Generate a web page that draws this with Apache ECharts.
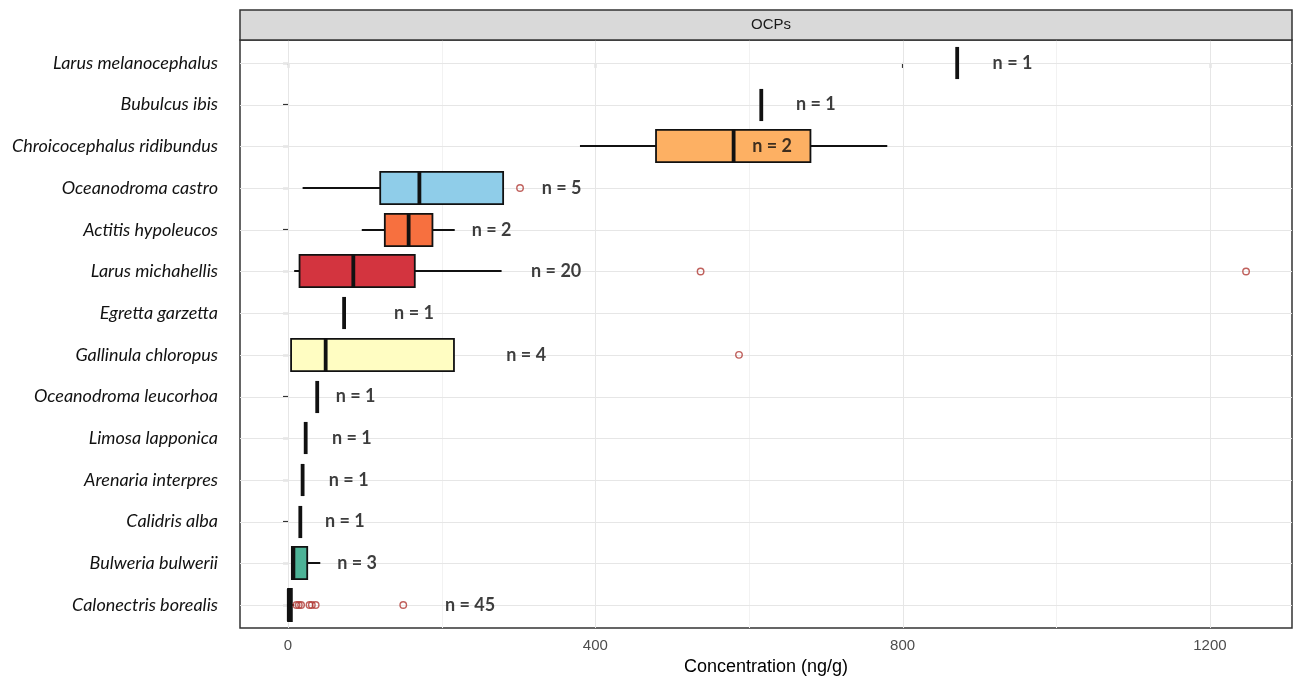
<!DOCTYPE html>
<html>
<head>
<meta charset="utf-8">
<title>OCPs concentration by species</title>
<script src="https://cdn.jsdelivr.net/npm/echarts@6/dist/echarts.min.js"></script>
<style>
  html, body { margin: 0; padding: 0; background: #ffffff; }
  #chart { width: 1294px; height: 677px; }
</style>
</head>
<body>
<div id="chart"></div>
<script>
// Species, listed from the top row to the bottom row
const species = [
  'Larus melanocephalus',
  'Bubulcus ibis',
  'Chroicocephalus ridibundus',
  'Oceanodroma castro',
  'Actitis hypoleucos',
  'Larus michahellis',
  'Egretta garzetta',
  'Gallinula chloropus',
  'Oceanodroma leucorhoa',
  'Limosa lapponica',
  'Arenaria interpres',
  'Calidris alba',
  'Bulweria bulwerii',
  'Calonectris borealis'
];

// Box statistics (ng/g)
const whiskerLow  = [871, 616, 380,  19,  96,   8, 73,   4, 38, 23, 19, 16,  5, 0];
const quartile1   = [871, 616, 479, 120, 126,  15, 73,   4, 38, 23, 19, 16,  5, 0];
const medianValue = [871, 616, 580, 171, 157,  85, 73,  49, 38, 23, 19, 16,  7, 1];
const quartile3   = [871, 616, 680, 280, 188, 165, 73, 216, 38, 23, 19, 16, 25, 5];
const whiskerHigh = [871, 616, 780, 280, 217, 278, 73, 216, 38, 23, 19, 16, 42, 8];

// Sample sizes and where their "n = " labels sit on the concentration scale
const sampleSize = [1, 1, 2, 5, 2, 20, 1, 4, 1, 1, 1, 1, 3, 45];
const labelAt    = [943, 687, 630, 356, 265, 349, 164, 310, 88, 83, 79, 74, 90, 237];

// Outlying observations
const outlierSpecies = [
  'Oceanodroma castro',
  'Larus michahellis', 'Larus michahellis',
  'Gallinula chloropus',
  'Calonectris borealis', 'Calonectris borealis', 'Calonectris borealis',
  'Calonectris borealis', 'Calonectris borealis', 'Calonectris borealis',
  'Calonectris borealis'
];
const outlierValue = [302, 537, 1247, 587, 11, 14, 17, 28, 31, 36, 150];

// Concentration ticks
const majorX = [0, 400, 800, 1200];
const minorX = [200, 600, 1000];

// Fill colour of each box
const boxFill = [
  '#111111', '#111111', '#FDB063', '#8FCDE9', '#F7703F', '#D3343F', '#111111',
  '#FFFDC2', '#111111', '#111111', '#111111', '#111111', '#4DB397', '#111111'
];

const rows = species.map((_, i) => i);
const boxData = species.map((_, i) => [i, whiskerLow[i], quartile1[i], medianValue[i], quartile3[i], whiskerHigh[i]]);
const labelData = species.map((_, i) => [labelAt[i], i, sampleSize[i]]);
const outlierData = outlierValue.map((v, k) => [v, species.indexOf(outlierSpecies[k])]);

const INK = '#111111';
const PANEL = { left: 240, right: 2, top: 40, bottom: 49 };

function renderBox(params, api) {
  const row = api.value(0);
  const lo = api.value(1), q1 = api.value(2), med = api.value(3), q3 = api.value(4), hi = api.value(5);
  const yc = Math.round(api.coord([0, row])[1]);
  const h = api.size([0, 1])[1] * 0.77;
  const x = v => api.coord([v, row])[0];
  const children = [];
  if (lo < q1) {
    children.push({ type: 'line', shape: { x1: x(lo), y1: yc, x2: x(q1), y2: yc }, style: { stroke: INK, lineWidth: 2 } });
  }
  if (hi > q3) {
    children.push({ type: 'line', shape: { x1: x(q3), y1: yc, x2: x(hi), y2: yc }, style: { stroke: INK, lineWidth: 2 } });
  }
  children.push({
    type: 'rect',
    shape: { x: x(q1), y: yc - h / 2, width: x(q3) - x(q1), height: h },
    style: { fill: boxFill[params.dataIndex], stroke: INK, lineWidth: 1.8 }
  });
  children.push({
    type: 'line',
    shape: { x1: x(med), y1: yc - h / 2, x2: x(med), y2: yc + h / 2 },
    style: { stroke: INK, lineWidth: 3.8 }
  });
  return { type: 'group', children };
}

const chart = echarts.init(document.getElementById('chart'), null, { renderer: 'canvas' });

chart.setOption({
  animation: false,
  backgroundColor: '#ffffff',
  grid: {
    left: PANEL.left, right: PANEL.right, top: PANEL.top, bottom: PANEL.bottom,
    outerBoundsMode: 'none',
    containLabel: false,
    show: true, borderColor: '#333333', borderWidth: 1.5, backgroundColor: 'transparent'
  },
  xAxis: {
    type: 'value',
    min: -62.5,
    max: 1306.8,
    name: 'Concentration (ng/g)',
    nameLocation: 'middle',
    nameGap: 29,
    nameTextStyle: { fontFamily: 'Liberation Sans', fontSize: 18, color: '#000000' },
    axisLine: { show: false },
    axisTick: { show: true, customValues: majorX, length: 5, lineStyle: { color: '#333333', width: 1.2 } },
    axisLabel: {
      customValues: majorX, margin: 10,
      formatter: v => String(v),
      fontFamily: 'Liberation Sans', fontSize: 15, color: '#4d4d4d'
    },
    splitLine: { show: false }
  },
  yAxis: {
    type: 'value',
    inverse: true,
    min: -0.55,
    max: 13.55,
    axisLine: { show: false },
    axisTick: { show: true, customValues: rows, length: 5, lineStyle: { color: '#333333', width: 1.2 } },
    axisLabel: {
      customValues: rows,
      formatter: v => species[Math.round(v)],
      margin: 22,
      fontFamily: 'Lato', fontStyle: 'italic', fontSize: 18, color: '#111111'
    },
    splitLine: { show: false }
  },
  series: [
    {
      type: 'custom',
      z: 3,
      renderItem: renderBox,
      encode: { x: [1, 2, 3, 4, 5], y: 0 },
      data: boxData
    },
    {
      type: 'scatter',
      z: 4,
      symbol: 'circle',
      symbolSize: 6.5,
      itemStyle: { color: 'rgba(255,255,255,0)', borderColor: '#B03A35', borderWidth: 1.4 },
      data: outlierData
    },
    {
      type: 'scatter',
      z: 5,
      symbolSize: 0,
      label: {
        show: true,
        position: 'inside',
        formatter: p => 'n = ' + p.value[2],
        fontFamily: 'Lato', fontWeight: 'bold', fontSize: 18, color: '#0d0d0d'
      },
      data: labelData
    }
  ]
});

// Panel grid lines and the facet strip, placed with the chart's own scales
const W = chart.getWidth();
const H = chart.getHeight();
const x0 = PANEL.left, x1 = W - PANEL.right, y0 = PANEL.top, y1 = H - PANEL.bottom;
const px = v => Math.round(chart.convertToPixel({ gridIndex: 0 }, [v, 0])[0]) + 0.5;
const py = r => Math.round(chart.convertToPixel({ gridIndex: 0 }, [0, r])[1]) + 0.5;

const gridGraphics = []
  .concat(minorX.map(v => ({
    type: 'line', silent: true, z: 1,
    shape: { x1: px(v), y1: y0, x2: px(v), y2: y1 },
    style: { stroke: '#f2f2f2', lineWidth: 1 }
  })))
  .concat(majorX.map(v => ({
    type: 'line', silent: true, z: 1,
    shape: { x1: px(v), y1: y0, x2: px(v), y2: y1 },
    style: { stroke: '#e6e6e6', lineWidth: 1 }
  })))
  .concat(rows.map(r => ({
    type: 'line', silent: true, z: 1,
    shape: { x1: x0, y1: py(r), x2: x1, y2: py(r) },
    style: { stroke: '#e6e6e6', lineWidth: 1 }
  })));

chart.setOption({
  graphic: gridGraphics.concat([
    {
      type: 'rect', silent: true, z: 10,
      shape: { x: x0, y: 10, width: x1 - x0, height: y0 - 10 },
      style: { fill: '#d9d9d9', stroke: '#333333', lineWidth: 1.5 }
    },
    {
      type: 'text', silent: true, z: 11,
      x: 771, y: 25,
      style: {
        text: 'OCPs', fontFamily: 'Liberation Sans', fontSize: 15, fill: '#1a1a1a',
        align: 'center', verticalAlign: 'middle'
      }
    }
  ])
});
</script>
</body>
</html>
